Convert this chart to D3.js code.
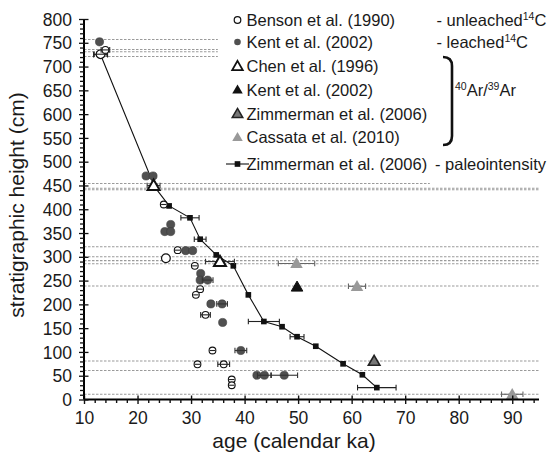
<!DOCTYPE html>
<html><head><meta charset="utf-8">
<script src="https://cdn.jsdelivr.net/npm/d3@7"></script>
<style>
body{margin:0;background:#fff;}
svg text{font-family:"Liberation Sans",Arial,Helvetica,sans-serif;fill:#1a1a1a;}
</style></head>
<body><svg id="c" width="549" height="454"></svg>
<script>
// [age ka, height cm, ± error ka]
const bensonLarge = [[13.1,726,1.2],[25.3,297,0]];
const bensonSmall = [[14.0,735,0.8],[24.9,410,0.5],[27.5,314,0.5],[30.7,281,0.5],[31.7,232,0.5],[30.9,220,0.5],[32.7,178,0.9],[34.0,103,0.5],[31.2,74,0.5],[36.1,74,1.1],[37.6,42,0.5],[37.6,30,0.5]];
const kentLeached = [[12.9,752,0],[21.6,470,0],[22.9,470,0],[26.2,368,0],[25.1,353,0],[26.2,353,0],[29.0,313,0],[30.3,313,0],[31.8,265,0],[31.7,251,0],[33.1,251,1.0],[33.7,201,0],[35.8,201,1.0],[35.9,162,0],[39.3,103,1.1],[42.3,51,0],[43.7,51,1.3],[47.4,51,2.5]];
const chen = [[23.0,450,1.2],[35.4,290,2.7]];
const kentArAr = [[49.8,237,0]];
const zimmermanArAr = [[64.2,81,0]];
const cassata = [[49.7,286,3.4],[61.0,238,1.6],[90.0,11,2.0]];
const paleo = [[13.1,725,1.3],[23.2,447,0],[25.9,407,0],[29.8,382,1.7],[31.7,337,1.1],[34.7,304,0],[37.9,281,0],[40.7,220,0],[43.6,164,2.9],[47.0,153,0],[49.8,132,1.3],[53.3,112,0],[58.4,75,0],[62.0,52,0],[64.7,25,3.6]];
// horizontal reference lines: [height cm, end age ka]
const hLines = [[757,35],[736,35],[731,35],[721,35],[454,74.6],[444,95],[441,95],[321,95],[300,95],[292,95],[285.5,95],[238.6,95],[81,95],[61,95],[11,95]];
const xTicks = [10,20,30,40,50,60,70,80,90];
const yTicks = [0,50,100,150,200,250,300,350,400,450,500,550,600,650,700,750,800];
const legendLabels = ["Benson et al. (1990)","Kent et al. (2002)","Chen et al. (1996)","Kent et al. (2002)","Zimmerman et al. (2006)","Cassata et al. (2010)","Zimmerman et al. (2006)"];

const svg = d3.select("#c");
const x = d3.scaleLinear().domain([10,95]).range([84,539]);
const y = d3.scaleLinear().domain([0,800]).range([399.5,19]);

// reference lines
svg.append("g").selectAll("line").data(hLines).join("line")
  .attr("x1",x(10)).attr("x2",d=>x(d[1])).attr("y1",d=>y(d[0])).attr("y2",d=>y(d[0]))
  .attr("stroke","#9a9a9a").attr("stroke-width",1.1).attr("stroke-dasharray","2.5,1.5");

// paleointensity line
svg.append("path").datum(paleo)
  .attr("d",d3.line().x(d=>x(d[0])).y(d=>y(d[1])))
  .attr("fill","none").attr("stroke","#111").attr("stroke-width",1.1);

function errBars(data,color,r){
  const g = svg.append("g").attr("stroke",color).attr("stroke-width",1.1);
  data.filter(d=>d[2]>0).forEach(d=>{
    const x1=x(d[0]-d[2]), x2=x(d[0]+d[2]), yy=y(d[1]);
    g.append("line").attr("x1",x1).attr("x2",x2).attr("y1",yy).attr("y2",yy);
    if (x2-x(d[0])>r){
      g.append("line").attr("x1",x1).attr("x2",x1).attr("y1",yy-2.8).attr("y2",yy+2.8);
      g.append("line").attr("x1",x2).attr("x2",x2).attr("y1",yy-2.8).attr("y2",yy+2.8);
    }
  });
}
function symbols(data,type,size,fill,stroke,sw){
  svg.append("g").selectAll("path").data(data).join("path")
    .attr("transform",d=>`translate(${x(d[0])},${y(d[1]) + (type===d3.symbolTriangle?1:0)})`)
    .attr("d",d3.symbol().type(type).size(size))
    .attr("fill",fill).attr("stroke",stroke).attr("stroke-width",sw);
}

// paleointensity squares
errBars(paleo,"#222",3);
symbols(paleo,d3.symbolSquare,32,"#111","none",0);
// Kent leached
symbols(kentLeached,d3.symbolCircle,52,"#505050","#3a3a3a",0.6);
errBars(kentLeached,"#333",4);
// Benson
symbols(bensonLarge,d3.symbolCircle,60,"#fff","#111",1.2);
errBars(bensonLarge,"#222",4.4);
symbols(bensonSmall,d3.symbolCircle,36,"#fff","#111",1.1);
errBars(bensonSmall,"#222",3.4);
// triangles
errBars(chen,"#333",5);
symbols(chen,d3.symbolTriangle,62,"#fff","#111",2);
symbols(kentArAr,d3.symbolTriangle,58,"#111","#111",1);
symbols(zimmermanArAr,d3.symbolTriangle,58,"#777","#222",1.6);
errBars(cassata,"#666",5);
symbols(cassata,d3.symbolTriangle,68,"#999","none",0);

// axes
const xa = svg.append("g").attr("transform",`translate(0,${y(0)})`);
xa.call(d3.axisBottom(x).tickValues(d3.range(10,95.1,2)).tickSize(3.5).tickFormat(""));
xa.call(g=>g.selectAll(".tick").filter(d=>d%10===0).select("line").attr("y1",-4).attr("y2",4.5));
xa.selectAll(".tick").filter(d=>d%10===0).append("text")
  .attr("y",24).attr("dy",0).attr("text-anchor","middle").style("font-size","17.5px").text(d=>xTicks.includes(d)?d:"");
xa.select(".domain").attr("stroke-width",2).attr("d",`M${x(10)},0H${x(95)}`);
xa.selectAll("line").attr("stroke","#111").attr("stroke-width",1.4);

const ya = svg.append("g").attr("transform",`translate(${x(10)},0)`);
ya.call(d3.axisLeft(y).tickValues(d3.range(0,801,10)).tickSize(4).tickFormat(""));
ya.call(g=>g.selectAll(".tick").filter(d=>d%50===0).select("line").attr("x2",4.5).attr("x1",-5));
ya.selectAll(".tick").filter(d=>yTicks.includes(d)).append("text")
  .attr("x",-12).attr("dy","0.35em").attr("text-anchor","end").style("font-size","17.5px").text(d=>d);
ya.select(".domain").attr("stroke-width",2).attr("d",`M0,${y(0)}V${y(800)}`);
ya.selectAll("line").attr("stroke","#111").attr("stroke-width",1.3);
ya.selectAll(".tick text").attr("fill","#1a1a1a");
xa.selectAll(".tick text").attr("fill","#1a1a1a");

// titles
svg.append("text").attr("x",294).attr("y",448).attr("text-anchor","middle")
  .style("font-size","21px").text("age (calendar ka)");
svg.append("text").attr("transform","translate(24,205) rotate(-90)").attr("text-anchor","middle")
  .style("font-size","21px").text("stratigraphic height (cm)");

// legend
const rows = [20,42,66,89.5,113.5,137,164];
const lx = 237.5, tx = 246.5;
const leg = svg.append("g");
leg.append("circle").attr("cx",lx).attr("cy",rows[0]).attr("r",3.3).attr("fill","#fff").attr("stroke","#111").attr("stroke-width",1.2);
leg.append("circle").attr("cx",lx).attr("cy",rows[1]).attr("r",3.3).attr("fill","#505050");
const tri = d3.symbol().type(d3.symbolTriangle).size(48);
leg.append("path").attr("d",tri).attr("transform",`translate(${lx},${rows[2]+1})`).attr("fill","#fff").attr("stroke","#111").attr("stroke-width",1.8);
leg.append("path").attr("d",tri).attr("transform",`translate(${lx},${rows[3]+1})`).attr("fill","#111");
leg.append("path").attr("d",tri).attr("transform",`translate(${lx},${rows[4]+1})`).attr("fill","#777").attr("stroke","#222").attr("stroke-width",1.5);
leg.append("path").attr("d",tri).attr("transform",`translate(${lx},${rows[5]+1})`).attr("fill","#999");
leg.append("line").attr("x1",226).attr("x2",249).attr("y1",rows[6]).attr("y2",rows[6]).attr("stroke","#111").attr("stroke-width",1.1);
leg.append("path").attr("d",d3.symbol().type(d3.symbolSquare).size(32)).attr("transform",`translate(${lx},${rows[6]})`).attr("fill","#111");
leg.selectAll("text.l").data(legendLabels).join("text").attr("class","l")
  .attr("x",tx).attr("y",(d,i)=>rows[i]+6).style("font-size","16.5px").text(d=>d);

function supText(xp,yp,parts){
  const t = svg.append("text").attr("x",xp).attr("y",yp).style("font-size","16.5px");
  parts.forEach(p=>{
    if (p.sup) t.append("tspan").attr("dy",-6).style("font-size","10.5px").text(p.t);
    else t.append("tspan").attr("dy",p.after?6:0).text(p.t);
  });
}
supText(436.5,rows[0]+6,[{t:"- unleached"},{t:"14",sup:true},{t:"C",after:true}]);
supText(436.5,rows[1]+6,[{t:"- leached"},{t:"14",sup:true},{t:"C",after:true}]);
supText(455,rows[3]+6,[{t:"40",sup:true},{t:"Ar/",after:true},{t:"39",sup:true},{t:"Ar",after:true}]);
svg.append("text").attr("x",435).attr("y",rows[6]+6).style("font-size","16.5px").text("- paleointensity");
svg.append("path").attr("d","M443,57 Q452,57 452,66 V136 Q452,145 443,145")
  .attr("fill","none").attr("stroke","#111").attr("stroke-width",2.6);
</script></body></html>
